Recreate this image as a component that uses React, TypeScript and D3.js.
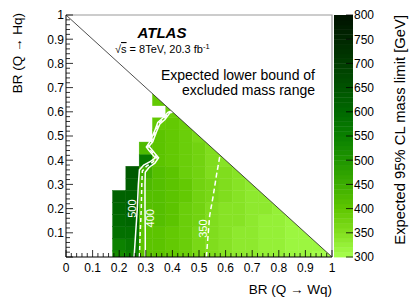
import { useRef, useEffect } from "react";
import * as d3 from "d3";

// bin centres of the BR grid (step 0.05)
const brWq = [0, 0.05, 0.1, 0.15, 0.2, 0.25, 0.3, 0.35, 0.4, 0.45, 0.5, 0.55, 0.6, 0.65, 0.7, 0.75, 0.8, 0.85, 0.9, 0.95, 1];
const brHq = [0, 0.05, 0.1, 0.15, 0.2, 0.25, 0.3, 0.35, 0.4, 0.45, 0.5, 0.55, 0.6, 0.65];

// expected mass limit [GeV], one list per BR(Q->Wq) column, from BR(Q->Hq)=0 upwards (null = not excluded)
const limitByColumn: (number | null)[][] = [
  [],
  [],
  [],
  [],
  [525, 540, 580, 590, 600, 610],
  [545, 565, 585, 600, 610, 615, 620, 630],
  [400, 402, 404, 406, 410, 414, 420, 445, 560, 425],
  [405, 406, 408, 410, 410, 412, 412, 410, 400, 405, 400, 398, null, 390],
  [395, 396, 398, 400, 400, 402, 402, 400, 398, 396, 394, 392, 388],
  [380, 382, 384, 386, 388, 390, 390, 388, 386, 384, 382, 380],
  [365, 366, 368, 372, 374, 376, 376, 374, 372, 370, 366],
  [350, 352, 354, 356, 358, 360, 360, 358, 356, 354],
  [342, 343, 345, 346, 348, 350, 352, 350, 348],
  [336, 337, 338, 340, 342, 344, 344, 342],
  [330, 331, 332, 334, 336, 338, 336],
  [325, 326, 327, 328, 330, 330],
  [320, 321, 322, 324, 324],
  [316, 317, 318, 318],
  [312, 313, 314],
  [309, 310],
  [305],
];

const contour500 = [[0.256, 0], [0.262, 0.1], [0.268, 0.2], [0.272, 0.3], [0.276, 0.36], [0.292, 0.38], [0.318, 0.395], [0.336, 0.41], [0.312, 0.44], [0.302, 0.455], [0.316, 0.478], [0.333, 0.52], [0.345, 0.556], [0.364, 0.574], [0.383, 0.598], [0.397, 0.603]];
const contour450 = [[0.276, 0], [0.279, 0.1], [0.283, 0.2], [0.285, 0.3], [0.287, 0.355], [0.302, 0.375], [0.326, 0.392], [0.342, 0.41], [0.317, 0.442], [0.307, 0.456], [0.321, 0.477], [0.337, 0.52], [0.349, 0.553], [0.368, 0.571], [0.386, 0.597], [0.399, 0.601]];
const contour400 = [[0.298, 0], [0.298, 0.1], [0.297, 0.2], [0.297, 0.3], [0.298, 0.35], [0.312, 0.37], [0.334, 0.388], [0.348, 0.41], [0.322, 0.444], [0.312, 0.458], [0.326, 0.476], [0.341, 0.52], [0.353, 0.55], [0.372, 0.568], [0.39, 0.595], [0.401, 0.599]];
const contour350 = [[0.528, 0], [0.532, 0.06], [0.54, 0.17], [0.553, 0.25], [0.566, 0.34], [0.579, 0.421]];

const contourLabels = [
  { text: "500", x: 0.247, y: 0.2 },
  { text: "400", x: 0.318, y: 0.16 },
  { text: "350", x: 0.515, y: 0.117 },
];

const zTicks = [300, 350, 400, 450, 500, 550, 600, 650, 700, 750, 800];
const paletteColors = ["#a6ff4d", "#84e020", "#5fc600", "#3dad00", "#1f9600", "#0a8000", "#006900", "#005300", "#003d00", "#002700", "#001200"];

const W = 415, H = 305;
const font = "'Liberation Sans', Arial, Helvetica, sans-serif";

export default function App() {
  const ref = useRef<SVGSVGElement>(null);

  useEffect(() => {
    const svg = d3.select(ref.current);
    svg.selectAll("*").remove();

    const x = d3.scaleLinear().domain([0, 1]).range([66, 332]);
    const y = d3.scaleLinear().domain([0, 1]).range([257, 15]);
    const palette = d3.scaleLinear<string>().domain(zTicks).range(paletteColors).clamp(true);
    const band = (v: number) => palette(Math.floor((v - 300) / 10) * 10 + 305);

    const defs = svg.append("defs");
    defs
      .append("clipPath")
      .attr("id", "tri")
      .append("path")
      .attr("d", `M${x(0)},${y(0)}L${x(1)},${y(0)}L${x(0)},${y(1)}Z`);

    // heat map cells
    const cells: { cx: number; cy: number; v: number }[] = [];
    limitByColumn.forEach((col, i) =>
      col.forEach((v, j) => {
        if (v != null) cells.push({ cx: brWq[i], cy: brHq[j], v });
      })
    );
    svg
      .append("g")
      .attr("clip-path", "url(#tri)")
      .selectAll("rect")
      .data(cells)
      .enter()
      .append("rect")
      .attr("x", (d) => x(d.cx - 0.025))
      .attr("y", (d) => y(d.cy + 0.025))
      .attr("width", x(0.05) - x(0))
      .attr("height", y(0) - y(0.05))
      .attr("fill", (d) => band(d.v))
      .attr("stroke", (d) => band(d.v))
      .attr("stroke-width", 0.4);

    // contours
    const line = d3
      .line<number[]>()
      .x((d) => x(d[0]))
      .y((d) => y(d[1]));
    const contours = [
      { pts: contour500, dash: null },
      { pts: contour450, dash: "4,3" },
      { pts: contour400, dash: null },
      { pts: contour350, dash: "5,3" },
    ];
    svg
      .append("g")
      .selectAll("path")
      .data(contours)
      .enter()
      .append("path")
      .attr("d", (d) => line(d.pts))
      .attr("fill", "none")
      .attr("stroke", "white")
      .attr("stroke-width", 1.5)
      .attr("stroke-dasharray", (d) => d.dash);

    svg
      .append("g")
      .selectAll("text")
      .data(contourLabels)
      .enter()
      .append("text")
      .attr("transform", (d) => `translate(${x(d.x)},${y(d.y)}) rotate(-90)`)
      .attr("text-anchor", "middle")
      .attr("dy", "0.35em")
      .attr("fill", "white")
      .attr("font-family", font)
      .attr("font-size", 11)
      .text((d) => d.text);

    // diagonal
    svg
      .append("line")
      .attr("x1", x(0))
      .attr("y1", y(1))
      .attr("x2", x(1))
      .attr("y2", y(0))
      .attr("stroke", "#222")
      .attr("stroke-width", 0.8);

    // frame
    svg
      .append("path")
      .attr("d", `M${x(0)},${y(1)}H${x(1)}V${y(0)}`)
      .attr("fill", "none")
      .attr("stroke", "#9a9a9a")
      .attr("stroke-width", 1.2);
    svg
      .append("path")
      .attr("d", `M${x(0)},${y(1)}V${y(0)}H${x(1)}`)
      .attr("fill", "none")
      .attr("stroke", "#000")
      .attr("stroke-width", 1);

    const minor = x.ticks(50);
    const major = x.ticks(10);
    const isMajor = (t: number) => Math.abs(t * 10 - Math.round(t * 10)) < 1e-6;
    const ticks = svg.append("g").attr("stroke", "#000").attr("stroke-width", 0.8);
    ticks
      .selectAll(".xt")
      .data(minor)
      .enter()
      .append("line")
      .attr("x1", (d) => x(d))
      .attr("x2", (d) => x(d))
      .attr("y1", y(0))
      .attr("y2", (d) => y(0) - (isMajor(d) ? 7 : 4));
    ticks
      .selectAll(".yt")
      .data(minor)
      .enter()
      .append("line")
      .attr("y1", (d) => y(d))
      .attr("y2", (d) => y(d))
      .attr("x1", x(0))
      .attr("x2", (d) => x(0) + (isMajor(d) ? 7 : 4));

    const fmt = (d: number) => String(+d.toFixed(1));
    svg
      .append("g")
      .selectAll("text")
      .data(major)
      .enter()
      .append("text")
      .attr("x", (d) => x(d))
      .attr("y", 272)
      .attr("text-anchor", "middle")
      .attr("font-family", font)
      .attr("font-size", 12)
      .text(fmt);
    svg
      .append("g")
      .selectAll("text")
      .data(major.filter((d) => d > 0))
      .enter()
      .append("text")
      .attr("x", 64)
      .attr("y", (d) => y(d))
      .attr("dy", "0.36em")
      .attr("text-anchor", "end")
      .attr("font-family", font)
      .attr("font-size", 12)
      .text(fmt);

    // axis titles
    svg
      .append("text")
      .attr("x", 332)
      .attr("y", 294)
      .attr("text-anchor", "end")
      .attr("font-family", font)
      .attr("font-size", 13.5)
      .text("BR (Q \u2192 Wq)");
    svg
      .append("text")
      .attr("transform", "translate(22,13) rotate(-90)")
      .attr("text-anchor", "end")
      .attr("font-family", font)
      .attr("font-size", 13.5)
      .text("BR (Q \u2192 Hq)");

    // annotations
    svg
      .append("text")
      .attr("x", 162)
      .attr("y", 38)
      .attr("text-anchor", "middle")
      .attr("font-family", font)
      .attr("font-size", 15)
      .attr("font-weight", "bold")
      .attr("font-style", "italic")
      .text("ATLAS");
    const energy = svg
      .append("text")
      .attr("x", 115)
      .attr("y", 53)
      .attr("font-family", font)
      .attr("font-size", 11);
    energy.append("tspan").text("\u221A");
    energy.append("tspan").attr("text-decoration", "overline").text("s");
    energy.append("tspan").text(" = 8TeV, 20.3 fb");
    energy.append("tspan").attr("dy", -4).attr("font-size", 7.5).text("-1");
    svg
      .append("text")
      .attr("x", 315)
      .attr("y", 80)
      .attr("text-anchor", "end")
      .attr("font-family", font)
      .attr("font-size", 14)
      .text("Expected lower bound of");
    svg
      .append("text")
      .attr("x", 315)
      .attr("y", 95)
      .attr("text-anchor", "end")
      .attr("font-family", font)
      .attr("font-size", 14)
      .text("excluded mass range");

    // colour bar
    const z = d3.scaleLinear().domain([300, 800]).range([257, 15]);
    const bands = d3.range(300, 800, 10);
    svg
      .append("g")
      .selectAll("rect")
      .data(bands)
      .enter()
      .append("rect")
      .attr("x", 334)
      .attr("y", (d) => z(d + 10))
      .attr("width", 19)
      .attr("height", z(300) - z(310) + 0.4)
      .attr("fill", (d) => band(d));
    svg
      .append("g")
      .attr("stroke", "#000")
      .attr("stroke-width", 0.8)
      .selectAll("line")
      .data(zTicks)
      .enter()
      .append("line")
      .attr("x1", 346)
      .attr("x2", 353)
      .attr("y1", (d) => z(d))
      .attr("y2", (d) => z(d));
    svg
      .append("g")
      .selectAll("text")
      .data(zTicks)
      .enter()
      .append("text")
      .attr("x", 354)
      .attr("y", (d) => z(d))
      .attr("dy", "0.36em")
      .attr("font-family", font)
      .attr("font-size", 12)
      .text((d) => d);
    svg
      .append("text")
      .attr("transform", "translate(405,15) rotate(-90)")
      .attr("text-anchor", "end")
      .attr("font-family", font)
      .attr("font-size", 14.8)
      .text("Expected 95% CL mass limit [GeV]");
  }, []);

  return (
    <svg
      ref={ref}
      width={W}
      height={H}
      style={{ position: "absolute", left: 0, top: 0, background: "#fff" }}
    />
  );
}
